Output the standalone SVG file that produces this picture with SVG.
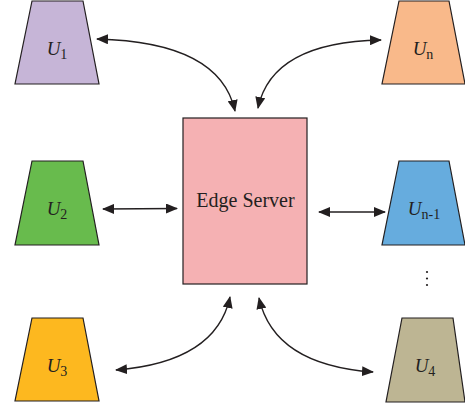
<svg xmlns="http://www.w3.org/2000/svg" width="465" height="407" viewBox="0 0 465 407">
  <style>
    .user { stroke: #231f20; stroke-width: 1.2; stroke-linejoin: miter; }
    .server { fill: #f5b1b3; stroke: #231f20; stroke-width: 1.2; }
    .lbl { font-family: "Liberation Serif", "Times New Roman", serif; font-size: 19px; fill: #231f20; text-anchor: middle; }
    .lbl .u { font-style: italic; }
    .lbl .sub { font-size: 14px; }
    .title { font-family: "Liberation Serif", "Times New Roman", serif; font-size: 20px; fill: #231f20; text-anchor: middle; }
    .link { fill: none; stroke: #231f20; stroke-width: 1.3; marker-start: url(#head); marker-end: url(#head); }
  </style>
  <defs>
    <marker id="head" viewBox="0 0 12 10" refX="11" refY="5" markerWidth="12" markerHeight="10" markerUnits="userSpaceOnUse" orient="auto-start-reverse">
      <path d="M0,0 L12,5 L0,10 Z" fill="#231f20"/>
    </marker>
  </defs>

  <!-- central server -->
  <g id="edge-server">
    <rect class="server" x="183" y="118" width="124" height="166"/>
    <text class="title" x="245.5" y="207">Edge Server</text>
  </g>

  <!-- user devices -->
  <g id="u1">
    <polygon class="user" fill="#c6b5d7" points="32,1 83,1 99,84 15,84"/>
    <text class="lbl" x="57" y="55"><tspan class="u">U</tspan><tspan class="sub" dy="4">1</tspan></text>
  </g>
  <g id="un">
    <polygon class="user" fill="#f9b98a" points="399,1 449,1 465,84 382,84"/>
    <text class="lbl" x="423" y="55"><tspan class="u">U</tspan><tspan class="sub" dy="4">n</tspan></text>
  </g>
  <g id="u2">
    <polygon class="user" fill="#68bb4d" points="32,161 83,161 99,245 15,245"/>
    <text class="lbl" x="57" y="215"><tspan class="u">U</tspan><tspan class="sub" dy="4">2</tspan></text>
  </g>
  <g id="un-1">
    <polygon class="user" fill="#66acde" points="399,161 449,161 465,245 382,245"/>
    <text class="lbl" x="424" y="215"><tspan class="u">U</tspan><tspan class="sub" dy="4">n-1</tspan></text>
  </g>
  <g id="u3">
    <polygon class="user" fill="#fdb81f" points="32,318 83,318 99,401 15,401"/>
    <text class="lbl" x="57" y="372"><tspan class="u">U</tspan><tspan class="sub" dy="4">3</tspan></text>
  </g>
  <g id="u4">
    <polygon class="user" fill="#bdb593" points="402,318 453,318 465,402 386,402"/>
    <text class="lbl" x="425" y="372"><tspan class="u">U</tspan><tspan class="sub" dy="4">4</tspan></text>
  </g>

  <!-- vertical ellipsis between Un-1 and U4 -->
  <g id="ellipsis" fill="#231f20">
    <circle cx="427" cy="272" r="1.1"/>
    <circle cx="427" cy="278.5" r="1.1"/>
    <circle cx="427" cy="285" r="1.1"/>
  </g>

  <!-- bidirectional links -->
  <g id="connectors">
    <path class="link" d="M97,39 Q220,42 235,111"/>
    <path class="link" d="M381,40 Q272,42 258,108"/>
    <path class="link" d="M103,209 L177,208.5"/>
    <path class="link" d="M319,212 L385,212"/>
    <path class="link" d="M116,370 Q216,362 230,297"/>
    <path class="link" d="M373,372 Q274,365 259,298"/>
  </g>
</svg>
